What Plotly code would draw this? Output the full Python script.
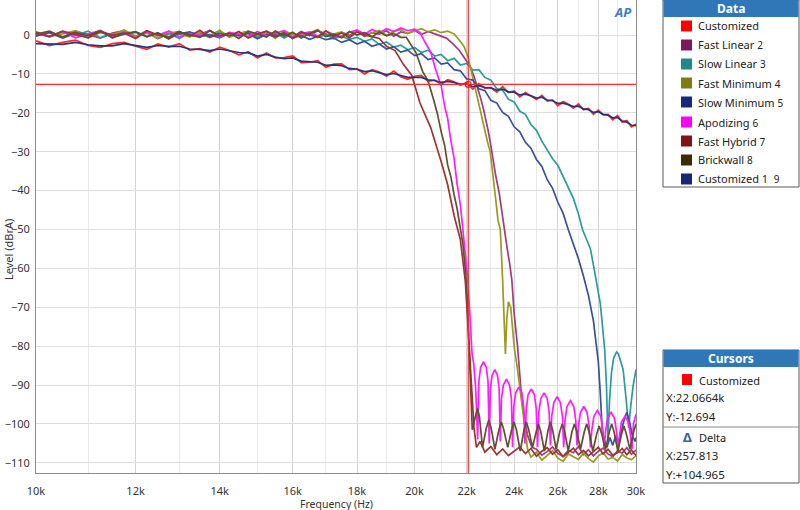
import math
import plotly.graph_objects as go

# ---------------- data (frequency in Hz, level in dBrA) ----------------
GRID_STEP = 250

CUST_F = list(range(10000, 30001, GRID_STEP))
CUST_V = [-1.5, -2.7, -1.9, -1.3, -2.7, -3.2, -2.2, -1.9, -2.9, -3.7,
          -2.3, -3.1, -2.2, -3.9, -3.5, -4.4, -3.1, -4.0, -5.1, -4.3,
          -5.9, -4.6, -5.9, -5.8, -5.4, -7.1, -7.0, -6.6, -8.3, -7.5,
          -7.4, -8.9, -8.7, -10.0, -8.9, -9.5, -10.6, -9.3, -10.7, -11.4,
          -10.6, -10.4, -11.9, -11.6, -12.7, -11.5, -12.0, -12.9, -12.2, -13.9,
          -12.5, -13.7, -13.5, -14.7, -13.3, -14.8, -14.4, -15.9, -14.8, -15.7,
          -16.6, -15.5, -17.0, -16.7, -18.2, -17.1, -17.8, -18.8, -17.7, -19.2,
          -18.9, -20.4, -19.3, -20.5, -20.4, -21.8, -20.7, -22.4, -22.0, -23.6,
          -22.9]
CUST1_V = [-2.2, -2.4, -2.4, -1.9, -2.5, -2.8, -2.8, -2.2, -2.8, -3.2,
           -2.7, -2.9, -2.9, -3.6, -3.7, -4.0, -3.6, -4.1, -4.5, -4.6,
           -5.4, -5.0, -5.7, -6.1, -5.9, -6.7, -6.9, -7.0, -7.8, -7.7,
           -7.9, -8.6, -8.8, -9.4, -9.2, -9.7, -10.2, -9.9, -10.5, -10.9,
           -10.9, -10.9, -11.5, -11.7, -12.2, -11.9, -12.2, -12.6, -12.6, -13.3,
           -13.0, -13.5, -13.6, -14.2, -13.9, -14.6, -14.7, -15.4, -15.2, -15.6,
           -16.2, -16.0, -16.7, -16.9, -17.6, -17.5, -17.9, -18.4, -18.3, -19.0,
           -19.2, -19.9, -19.7, -20.4, -20.6, -21.3, -21.2, -22.1, -22.4, -23.2,
           -23.3]

# Fast Linear
FL_FLAT_F = list(range(10000, 21001, GRID_STEP))
FL_FLAT_V = [-0.2, 0.7, -0.6, 1.0, 0.1, -0.8, 0.5, 1.1, -0.3, 0.6, -0.9, 0.3, 0.9, -0.4, 0.2,
             1.2, -0.6, 0.4, -0.1, 0.8, -0.7, 1.0, 0.0, 0.5, -0.5, 0.9, -0.2, 1.1, 0.3, -0.6,
             0.7, -0.1, 1.0, -0.4, 0.6, 0.2, 1.1, -0.3, 0.8, 0.4, 1.2, 0.1, 0.9, 0.3, -0.4]
FL_DROP_F = [21200, 21450, 21700, 21900, 22150, 22300, 22450, 22580, 22700, 22800,
             22900, 23000, 23100, 23200, 23350, 23500, 23600, 23700, 23800, 23900,
             24000, 24150, 24300, 24450, 24600, 24800]
FL_DROP_V = [-0.8, -2.2, -3.9, -5.8, -8.2, -10.6, -13.4, -16.4, -19.3, -22.0,
             -25.0, -28.5, -32.5, -36.0, -40.5, -47.0, -51.5, -55.0, -58.6, -63.0,
             -71.5, -80.0, -91.0, -98.0, -103.0, -106.0]
FL_FLOOR_F = list(range(25000, 30001, GRID_STEP))
FL_FLOOR_V = [-106.5, -108.0, -107.1, -105.9, -107.6, -108.3, -106.8, -107.4, -105.8, -107.9,
              -106.6, -108.2, -107.0, -106.2, -107.7, -108.4, -106.9, -107.5, -106.1, -107.8,
              -106.7]

# Slow Linear
SL_FLAT_F = list(range(10000, 18001, GRID_STEP))
SL_FLAT_V = [0.4, -0.5, 0.8, -0.1, 1.0, -0.7, 0.3, 0.6, -0.4, 1.1, -0.2, 0.5, -0.9, 0.7, 0.2,
             -0.6, 0.9, -0.3, 0.4, 1.0, -0.5, 0.1, 0.6, -0.8, 0.3, -0.2, 0.5, -0.6, 0.1, -0.9,
             -0.3, -1.1, -0.6]
SL_DROP_F = [18250, 18500, 18750, 19000, 19250, 19500, 19750, 20000, 20250, 20500,
             20750, 21000, 21250, 21500, 21750, 22000, 22250, 22500, 22750, 23000,
             23250, 23500, 23750, 24000, 24250, 24500, 24750, 25000, 25250, 25500,
             25750, 26000, 26250, 26500, 26750, 27000, 27200, 27400, 27600, 27800,
             27950, 28100, 28200, 28330, 28420, 28500, 28580, 28680, 28800, 28950,
             29050, 29150, 29300, 29450, 29600, 29720, 29850, 30000]
SL_DROP_V = [-1.6, -1.0, -2.4, -1.8, -3.1, -2.6, -3.8, -3.2, -4.5, -3.9,
             -5.4, -5.0, -6.6, -6.0, -7.7, -7.3, -9.0, -8.9, -10.9, -11.6,
             -13.8, -14.2, -16.5, -17.2, -19.6, -20.4, -23.0, -24.5, -27.3, -29.6,
             -31.8, -33.5, -36.5, -39.2, -42.0, -46.0, -50.0, -52.5, -55.0, -60.5,
             -64.5, -69.0, -74.0, -81.0, -90.0, -104.0, -94.0, -87.0, -83.0, -81.5,
             -82.0, -83.5, -86.0, -93.0, -101.0, -95.0, -90.0, -86.0]

# Fast Minimum
FM_FLAT_F = list(range(10000, 21501, GRID_STEP))
FM_FLAT_V = [0.9, -0.4, 0.3, 1.1, -0.7, 0.6, 0.0, 1.3, -0.3, 0.5, -0.8, 1.0, 0.2, -0.5, 0.8,
             -0.1, 1.2, -0.6, 0.4, 0.9, -0.2, 0.7, -0.9, 1.1, 0.1, -0.4, 0.6, 1.4, -0.3, 0.3,
             0.8, -0.6, 1.0, 0.2, 0.5, 1.2, -0.1, 0.9, 1.4, 0.4, 1.1, 1.6, 0.8, 1.3, 0.6,
             1.0, 0.3]
FM_DROP_F = [21700, 21900, 22050, 22150, 22250, 22350, 22450, 22560, 22650, 22750,
             22860, 22970, 23100, 23200, 23300, 23400, 23500, 23580, 23620, 23680,
             23750, 23850, 24000, 24150, 24300, 24450, 24600]
FM_DROP_V = [-1.2, -3.0, -5.5, -8.2, -11.0, -14.0, -16.8, -19.3, -22.0, -25.0,
             -27.5, -30.0, -36.0, -42.0, -47.6, -50.0, -63.0, -76.0, -82.0, -73.0,
             -68.6, -70.0, -80.0, -86.0, -93.0, -101.0, -106.5]
FM_FLOOR_F = list(range(24750, 30001, GRID_STEP))
FM_FLOOR_V = [-108.5, -107.2, -109.3, -108.0, -106.9, -108.8, -109.6, -107.7, -108.4, -109.1,
              -107.5, -108.9, -109.8, -108.2, -107.4, -109.0, -108.6, -109.5, -107.9, -108.7,
              -109.2, -108.1]

# Slow Minimum
SM_FLAT_F = list(range(10000, 17001, GRID_STEP))
SM_FLAT_V = [-0.3, 0.6, -0.8, 0.4, -0.1, 0.9, -0.6, 0.2, 0.7, -0.5, 0.5, -0.9, 0.3, 0.8, -0.4,
             0.1, -0.7, 0.6, -0.2, 0.4, -1.0, 0.2, -0.5, 0.3, -0.8, -0.1, -1.1, -0.4, -1.2]
SM_DROP_F = [17250, 17500, 17750, 18000, 18250, 18500, 18750, 19000, 19250, 19500,
             19750, 20000, 20250, 20500, 20750, 21000, 21250, 21500, 21750, 22000,
             22250, 22500, 22750, 23000, 23250, 23500, 23750, 24000, 24250, 24500,
             24750, 25000, 25250, 25500, 25750, 26000, 26250, 26500, 26750, 27000,
             27250, 27500, 27750, 28000, 28100, 28200, 28300, 28450, 28600, 28750,
             28900, 29050, 29200, 29350, 29500, 29650, 29800, 29950, 30000]
SM_DROP_V = [-0.8, -1.9, -1.2, -2.3, -1.6, -2.9, -2.3, -3.6, -3.0, -4.4,
             -3.9, -5.3, -4.8, -6.3, -5.9, -7.5, -7.2, -8.9, -9.2, -11.3,
             -11.6, -13.8, -14.3, -16.8, -17.5, -19.9, -20.9, -23.6, -24.9, -27.6,
             -29.1, -32.0, -33.8, -37.2, -39.4, -43.0, -45.8, -50.0, -53.5, -57.5,
             -62.0, -67.0, -73.5, -84.0, -92.0, -101.5, -104.0, -106.0, -103.5, -105.5,
             -103.0, -105.0, -102.0, -99.0, -97.0, -99.5, -103.0, -104.5, -103.5]

# Apodizing
AP_FLAT_F = list(range(10000, 20001, GRID_STEP))
AP_FLAT_V = [0.5, -0.3, 0.9, -0.7, 0.3, 1.1, -0.2, 0.6, -0.8, 0.8, 0.0, 1.0, -0.5, 0.4, -0.1,
             1.2, -0.6, 0.7, 0.2, -0.4, 0.9, -0.2, 0.5, 1.1, -0.7, 0.3, 0.8, -0.3, 1.0, 0.1,
             -0.5, 0.7, 1.3, 0.2, 1.4, 0.6, 1.6, 0.9, 1.8, 1.1, 1.5]
AP_DROP_F = [20200, 20400, 20600, 20800, 21000, 21130, 21250, 21380, 21500, 21620,
             21750, 21850, 21950, 22050, 22150, 22220, 22290, 22370, 22450]
AP_DROP_V = [0.6, -2.0, -4.4, -9.1, -13.1, -18.2, -21.5, -27.4, -31.7, -38.3,
             -43.7, -50.0, -56.5, -63.0, -74.0, -82.0, -84.5, -91.0, -104.0]
AP_RIPPLE_F = [22500, 22570, 22690, 22810, 22880, 22930,
               22980, 23050, 23165, 23280, 23350, 23400,
               23450, 23530, 23665, 23800, 23880, 23930,
               23985, 24070, 24205, 24340, 24425, 24480,
               24540, 24620, 24765, 24910, 24990, 25050,
               25110, 25200, 25350, 25500, 25590, 25650,
               25710, 25810, 25965, 26120, 26220, 26280,
               26345, 26440, 26605, 26770, 26865, 26930,
               27000, 27100, 27265, 27430, 27530, 27600,
               27670, 27775, 27950, 28125, 28230, 28300,
               28370, 28480, 28660, 28840, 28950, 29020,
               29100, 29210, 29400, 29590, 29700, 29780,
               29860, 30000]
AP_RIPPLE_V = [-89, -85.5, -84, -85.5, -89, -105,
               -91, -87.5, -86, -87.5, -91, -104.5,
               -93.5, -90, -88.5, -90, -93.5, -106,
               -95.5, -92, -90.5, -92, -95.5, -105,
               -96, -92.5, -91, -92.5, -96, -106,
               -97, -93.5, -92, -93.5, -97, -105.5,
               -98, -94.5, -93, -94.5, -98, -106,
               -99, -95.5, -94, -95.5, -99, -105.5,
               -100.5, -97, -95.5, -97, -100.5, -106,
               -101.5, -98, -96.5, -98, -101.5, -106.5,
               -102, -98.5, -97, -98.5, -102, -106,
               -103, -99.5, -98, -99.5, -103, -106.5,
               -100, -97.5]

# Fast Hybrid
FH_FLAT_F = list(range(10000, 18501, GRID_STEP))
FH_FLAT_V = [0.6, -0.4, 1.0, 0.2, -0.7, 0.9, -0.1, 0.5, -0.9, 1.1, 0.0, -0.5, 0.8, -0.3, 1.2,
             -0.6, 0.4, -0.2, 0.9, -0.8, 0.3, 1.0, -0.4, 0.6, -0.9, 0.7, 0.1, -0.6, 1.1, -0.3,
             0.5, -0.7, 0.8, 0.0, -0.4]
FH_DROP_F = [18750, 19000, 19300, 19600, 19900, 20200, 20600, 21000, 21250, 21500,
             21750, 21950, 22070, 22200, 22300, 22400, 22550]
FH_DROP_V = [-0.9, -2.9, -4.0, -7.6, -10.4, -17.5, -23.8, -32.6, -38.5, -46.4,
             -52.6, -63.5, -76.0, -90.0, -101.0, -106.0, -104.5]
FH_FLOOR_F = list(range(22750, 30001, GRID_STEP))
FH_FLOOR_V = [-107.2, -105.8, -107.9, -106.4, -108.1, -106.9, -105.9, -107.6, -106.3, -108.3,
              -107.0, -106.1, -107.8, -106.6, -108.4, -107.3, -106.2, -107.9, -106.8, -108.2,
              -107.1, -106.0, -107.7, -106.5, -108.0, -107.4, -106.3, -107.9, -106.7, -108.1]

# Brickwall
BW_FLAT_F = list(range(10000, 19501, GRID_STEP))
BW_FLAT_V = [0.2, 1.0, -0.5, 0.7, -0.2, 1.2, -0.8, 0.4, 0.9, -0.4, 0.6, -1.0, 0.8, 0.1, -0.6,
             1.1, -0.2, 0.5, -0.9, 0.9, 0.3, -0.5, 1.0, -0.3, 0.7, -0.8, 0.4, 1.2, -0.4, 0.2,
             -0.7, 0.9, 0.0, 0.6, -0.5, 0.8, -0.2, 0.4, -0.6]
BW_DROP_F = [19700, 19850, 20050, 20300, 20500, 20700, 20850, 21000, 21130, 21250,
             21380, 21500, 21620, 21750, 21850, 21950, 22020, 22100, 22170, 22230]
BW_DROP_V = [-0.6, -2.3, -4.5, -9.4, -11.8, -16.4, -20.1, -24.9, -28.3, -33.4,
             -36.6, -41.0, -44.6, -49.8, -53.6, -60.5, -67.0, -80.0, -92.0, -101.5]
BW_RIPPLE_F = [22360, 22440, 22520, 22650,
               22810, 22910, 23010, 23170,
               23340, 23445, 23550, 23720,
               23890, 23995, 24100, 24270,
               24440, 24545, 24650, 24820,
               24990, 25095, 25200, 25370,
               25540, 25645, 25750, 25920,
               26090, 26210, 26330, 26500,
               26680, 26800, 26920, 27100,
               27290, 27410, 27530, 27720,
               27920, 28045, 28170, 28370,
               28570, 28695, 28820, 29020,
               29220, 29345, 29470, 29670,
               29870, 30000]
BW_RIPPLE_V = [-98, -96, -98, -106,
               -101, -99, -101, -106.5,
               -101.5, -99.5, -101.5, -106,
               -101.5, -99.5, -101.5, -107,
               -101.5, -99.5, -101.5, -106,
               -102, -100, -102, -107,
               -101.5, -99.5, -101.5, -106.5,
               -102, -100, -102, -107,
               -102, -100, -102, -106.5,
               -102, -100, -102, -107,
               -102.5, -100.5, -102.5, -106.5,
               -102, -100, -102, -107,
               -102.5, -100.5, -102.5, -106.5,
               -102, -100]

SERIES_NAMES = ["Customized", "Fast Linear", "Slow Linear", "Fast Minimum", "Slow Minimum",
                "Apodizing", "Fast Hybrid", "Brickwall", "Customized 1"]
SERIES_NUMS = ["", "2", "3", "4", "5", "6", "7", "8", "9"]
SWATCH_COLORS = ["#FF0000", "#7A1A5C", "#1E8A8A", "#7D7D12", "#17297A",
                 "#FF00FF", "#7E1414", "#3E2A06", "#16287A"]
LINE_COLORS = ["#FF2626", "#A03C80", "#2C9C9C", "#9A9A1C", "#3A50A0",
               "#FF1CFF", "#9E3434", "#63502C", "#27357F"]

SERIES_F = [
    CUST_F,
    FL_FLAT_F + FL_DROP_F + FL_FLOOR_F,
    SL_FLAT_F + SL_DROP_F,
    FM_FLAT_F + FM_DROP_F + FM_FLOOR_F,
    SM_FLAT_F + SM_DROP_F,
    AP_FLAT_F + AP_DROP_F + AP_RIPPLE_F,
    FH_FLAT_F + FH_DROP_F + FH_FLOOR_F,
    BW_FLAT_F + BW_DROP_F + BW_RIPPLE_F,
    CUST_F,
]
SERIES_V = [
    CUST_V,
    FL_FLAT_V + FL_DROP_V + FL_FLOOR_V,
    SL_FLAT_V + SL_DROP_V,
    FM_FLAT_V + FM_DROP_V + FM_FLOOR_V,
    SM_FLAT_V + SM_DROP_V,
    AP_FLAT_V + AP_DROP_V + AP_RIPPLE_V,
    FH_FLAT_V + FH_DROP_V + FH_FLOOR_V,
    BW_FLAT_V + BW_DROP_V + BW_RIPPLE_V,
    CUST1_V,
]
for f, v, n in zip(SERIES_F, SERIES_V, SERIES_NAMES):
    assert len(f) == len(v), (n, len(f), len(v))

X_TICKS = [10000, 12000, 14000, 16000, 18000, 20000, 22000, 24000, 26000, 28000, 30000]
X_TICK_LABELS = ["10k", "12k", "14k", "16k", "18k", "20k", "22k", "24k", "26k", "28k", "30k"]
X_MINOR = [11000, 13000, 15000, 17000, 19000, 21000, 23000, 25000, 27000, 29000]
Y_TICKS = [-110, -100, -90, -80, -70, -60, -50, -40, -30, -20, -10, 0]
Y_RANGE = [-112.6, 9.0]
X_RANGE_HZ = [10000, 30000]

CURSOR_X = 22066.4
CURSOR_Y = -12.694
DELTA_X = "257.813"
DELTA_Y = "+104.965"

# ---------------- figure ----------------
fig = go.Figure()
for f, v, c in zip(SERIES_F, SERIES_V, LINE_COLORS):
    fig.add_trace(go.Scatter(x=f, y=v, mode="lines", line=dict(color=c, width=1.7),
                             showlegend=False, hoverinfo="skip"))

# cursors
fig.add_trace(go.Scatter(x=[CURSOR_X, CURSOR_X], y=Y_RANGE, mode="lines",
                         line=dict(color="#FF2B2B", width=1.2), showlegend=False, hoverinfo="skip"))
fig.add_trace(go.Scatter(x=X_RANGE_HZ, y=[CURSOR_Y, CURSOR_Y], mode="lines",
                         line=dict(color="#FF2B2B", width=1.2), showlegend=False, hoverinfo="skip"))
fig.add_trace(go.Scatter(x=[CURSOR_X], y=[CURSOR_Y], mode="markers",
                         marker=dict(symbol="circle-open", size=6, color="#E02020", line=dict(width=1.2)),
                         showlegend=False, hoverinfo="skip"))

PLOT_L, PLOT_R, PLOT_T, PLOT_B = 36, 636, 0, 473


def PX(x):
    return (x - PLOT_L) / (PLOT_R - PLOT_L)


def PY(y):
    return (PLOT_B - y) / (PLOT_B - PLOT_T)


shapes = []
annotations = []
FONT = "Noto Sans, Open Sans, sans-serif"
HEADER_BLUE = "#2F77B6"


def rect(x0, y0, x1, y1, fill, line=None, lw=1):
    shapes.append(dict(type="rect", xref="paper", yref="paper",
                       x0=PX(x0), x1=PX(x1), y0=PY(y1), y1=PY(y0),
                       fillcolor=fill, line=dict(color=line or "rgba(0,0,0,0)", width=lw if line else 0),
                       layer="above"))


def text(x, y, s, size=11.5, color="#222", anchor="left", bold=False):
    if bold:
        s = "<b>" + s + "</b>"
    annotations.append(dict(xref="paper", yref="paper", x=PX(x), y=PY(y), text=s,
                            showarrow=False, xanchor=anchor, yanchor="middle",
                            font=dict(family=FONT, size=size, color=color)))


# Data panel
rect(663, 0, 799, 187, "white", "#5A5A5A", 1)
rect(663.5, 0, 798.5, 17, HEADER_BLUE)
text(731, 9, "Data", 12, "white", "center", True)
ROW_Y = [26, 45, 64, 83, 102, 122, 141, 160, 179]
for ry, name, num, col in zip(ROW_Y, SERIES_NAMES, SERIES_NUMS, SWATCH_COLORS):
    rect(681, ry - 5.5, 692, ry + 5.5, col)
    gap = "\u00a0\u00a0" if name == "Customized 1" else "\u00a0"
    label = name + (gap + "<span style='font-size:10px'>" + num + "</span>" if num else "")
    text(696, ry, label, 11)

# Cursors panel
rect(663, 350, 799, 483, "white", "#5A5A5A", 1)
rect(663.5, 350, 798.5, 367, HEADER_BLUE)
text(731, 359, "Cursors", 12, "white", "center", True)
rect(682, 374, 692, 385, SWATCH_COLORS[0])
text(697, 380, SERIES_NAMES[0], 11)
text(664, 397, "X:22.0664k")
text(664, 416, "Y:" + str(CURSOR_Y))
shapes.append(dict(type="line", xref="paper", yref="paper", x0=PX(663), x1=PX(799),
                   y0=PY(427), y1=PY(427), line=dict(color="#8A8A8A", width=1), layer="above"))
text(687, 437, "<b>Δ</b>", 13, "#3A5F9A", "center")
text(697, 437, "Delta", 11)
text(664, 455, "X:" + DELTA_X)
text(664, 474, "Y:" + DELTA_Y)

# AP logo
text(622, 12, "<b><i>AP</i></b>", 13, "#3C7DC4", "center")

# axis titles
annotations.append(dict(xref="paper", yref="paper", x=PX(8), y=PY(250), text="Level (dBrA)",
                        textangle=-90, showarrow=False, xanchor="center", yanchor="middle",
                        font=dict(family=FONT, size=11, color="#333")))
annotations.append(dict(xref="paper", yref="paper", x=PX(336), y=PY(504), text="Frequency (Hz)",
                        showarrow=False, xanchor="center", yanchor="middle",
                        font=dict(family=FONT, size=10.5, color="#333")))

fig.update_layout(
    width=800, height=510,
    margin=dict(l=PLOT_L, r=800 - PLOT_R, t=PLOT_T, b=510 - PLOT_B, autoexpand=False),
    paper_bgcolor="white", plot_bgcolor="white",
    showlegend=False,
    font=dict(family=FONT, size=11, color="#333"),
    shapes=shapes, annotations=annotations,
    xaxis=dict(type="log", range=[math.log10(X_RANGE_HZ[0]), math.log10(X_RANGE_HZ[1])],
               tickmode="array", tickvals=X_TICKS, ticktext=X_TICK_LABELS,
               showgrid=True, gridcolor="#D4D4D4", gridwidth=1,
               minor=dict(tickmode="array", tickvals=X_MINOR, showgrid=True,
                          gridcolor="#EAEAEA", ticks=""),
               showline=True, linecolor="#8C8C8C", linewidth=1, mirror=True,
               ticks="outside", ticklen=8, tickcolor="rgba(0,0,0,0)",
               zeroline=False, tickfont=dict(size=11, color="#333"), automargin=False),
    yaxis=dict(range=Y_RANGE, tickmode="array", tickvals=Y_TICKS,
               showgrid=True, gridcolor="#DEDEDE", gridwidth=1,
               showline=True, linecolor="#8C8C8C", linewidth=1, mirror=True,
               ticks="outside", ticklen=3, tickcolor="rgba(0,0,0,0)",
               zeroline=False, tickfont=dict(size=11, color="#333"), automargin=False),
)

fig.write_html("out.html", config={"displayModeBar": False},
               post_script="document.body.style.margin='0px';")
